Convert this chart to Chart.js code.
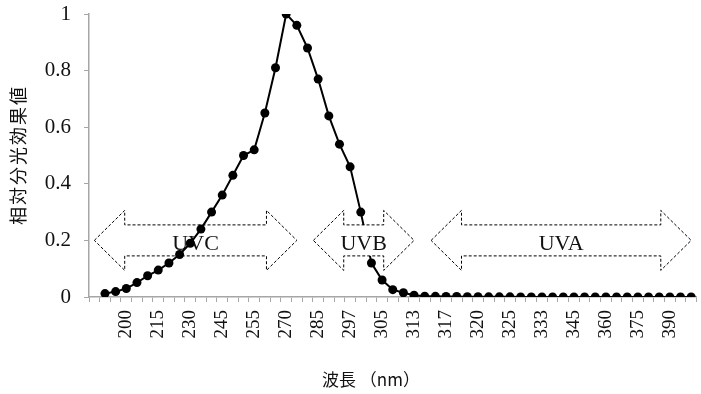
<!DOCTYPE html>
<html>
<head>
<meta charset="utf-8">
<script src="https://cdn.jsdelivr.net/npm/chart.js@4/dist/chart.umd.min.js"></script>
<style>
  body { margin: 0; background: #fff; }
  #wrap { width: 701px; height: 394px; }
</style>
</head>
<body>
<div id="wrap"><canvas id="uv-chart" width="701" height="394"></canvas></div>
<script>
// wavelength categories (first slot is empty, as in the original sheet)
var wavelengths = ['', '180', '190', '200', '205', '210', '215', '220', '225', '230', '235',
	'240', '245', '250', '254', '255', '260', '265', '270', '275', '280', '285', '290',
	'295', '297', '300', '303', '305', '308', '310', '313', '315', '316', '317', '318',
	'319', '320', '322', '323', '325', '328', '330', '333', '335', '340', '345', '350',
	'355', '360', '365', '370', '375', '380', '385', '390', '395', '400'];

// relative spectral effectiveness
var efficacy = [null, 0.012, 0.019, 0.030, 0.051, 0.075, 0.095, 0.120, 0.150, 0.190, 0.240,
	0.300, 0.360, 0.430, 0.500, 0.520, 0.650, 0.810, 1.000, 0.960, 0.880, 0.770, 0.640,
	0.540, 0.460, 0.300, 0.120, 0.060, 0.026, 0.015, 0.006, 0.003, 0.0024, 0.0020, 0.0016,
	0.0012, 0.0010, 0.00067, 0.00054, 0.00050, 0.00044, 0.00041, 0.00037, 0.00034, 0.00028,
	0.00024, 0.00020, 0.00016, 0.00013, 0.00011, 0.000093, 0.000077, 0.000064, 0.000053,
	0.000044, 0.000036, 0.000030];

var yTicks = [0, 0.2, 0.4, 0.6, 0.8, 1];
var yTickLabels = ['0', '0.2', '0.4', '0.6', '0.8', '1'];
var bandNames = ['UVC', 'UVB', 'UVA'];

var xTitle = '波長 （nm）';
var yTitle = '相対分光効果値';

var axisGray = '#a6a6a6';
var serif = '"Liberation Serif", "DejaVu Serif", serif';
var cjk = '"Noto Sans CJK JP", "Noto Sans", sans-serif';

// band arrows, spans given in category index units
var bandSpans = [
	{ from: 0, to: 19, front: false },
	{ from: 20.55, to: 30, front: true },
	{ from: 31.6, to: 56, front: false }
];

function drawArrows(chart, front) {
	var ctx = chart.ctx;
	var xs = chart.scales.x, ys = chart.scales.y;
	var w = xs.getPixelForValue(1) - xs.getPixelForValue(0);
	var yc = ys.getPixelForValue(0.2);
	var head = 2.85 * w, H = 30, b = 15.5;

	ctx.save();
	for (var i = 0; i < bandSpans.length; i++) {
		var s = bandSpans[i];
		if (s.front != front) continue;
		var x0 = xs.getPixelForValue(s.from), x1 = xs.getPixelForValue(s.to);
		ctx.beginPath();
		ctx.moveTo(x0, yc);
		ctx.lineTo(x0 + head, yc - H);
		ctx.lineTo(x0 + head, yc - b);
		ctx.lineTo(x1 - head, yc - b);
		ctx.lineTo(x1 - head, yc - H);
		ctx.lineTo(x1, yc);
		ctx.lineTo(x1 - head, yc + H);
		ctx.lineTo(x1 - head, yc + b);
		ctx.lineTo(x0 + head, yc + b);
		ctx.lineTo(x0 + head, yc + H);
		ctx.closePath();
		ctx.fillStyle = '#fff';
		ctx.fill();
		ctx.setLineDash([3, 2]);
		ctx.lineWidth = 1;
		ctx.strokeStyle = '#000';
		ctx.stroke();
		ctx.setLineDash([]);

		ctx.fillStyle = '#111';
		ctx.font = '22px ' + serif;
		ctx.textAlign = 'center';
		ctx.textBaseline = 'middle';
		ctx.fillText(bandNames[i], (x0 + x1) / 2, yc + 4);
	}
	ctx.restore();
}

var bandArrows = {
	id: 'bandArrows',
	beforeDatasetsDraw: function(chart) { drawArrows(chart, false); },
	afterDatasetsDraw: function(chart) { drawArrows(chart, true); }
};

var axisTitles = {
	id: 'axisTitles',
	afterDraw: function(chart) {
		var ctx = chart.ctx;
		ctx.save();
		ctx.fillStyle = '#111';
		ctx.textAlign = 'center';
		ctx.textBaseline = 'middle';
		ctx.font = '17px ' + cjk;
		ctx.fillText(xTitle, 371, 380);

		ctx.translate(18, 155);
		ctx.rotate(-Math.PI / 2);
		ctx.font = '18px ' + cjk;
		ctx.letterSpacing = '2px';
		ctx.fillText(yTitle, 0, 0);
		ctx.restore();
	}
};

var ctx = document.getElementById('uv-chart').getContext('2d');

var chart = new Chart(ctx, {
	type: 'line',
	data: {
		labels: wavelengths,
		datasets: [{
			label: yTitle,
			data: efficacy,
			borderColor: '#000',
			backgroundColor: '#000',
			borderWidth: 2,
			pointRadius: 4.5,
			pointHoverRadius: 4.5,
			pointBackgroundColor: '#000',
			pointBorderWidth: 0,
			tension: 0,
			spanGaps: false
		}]
	},
	options: {
		responsive: false,
		animation: false,
		layout: { padding: { top: 14, right: 3, left: 0, bottom: 0 } },
		plugins: {
			legend: { display: false },
			tooltip: { enabled: false }
		},
		scales: {
			x: {
				type: 'category',
				offset: true,
				afterFit: function(scale) {
					scale.height = 97;
					scale.paddingLeft = 0;
					scale.paddingRight = 0;
				},
				border: { color: axisGray, width: 1.5 },
				grid: { drawOnChartArea: false, color: axisGray, tickLength: 5, offset: true },
				ticks: {
					autoSkip: false,
					maxRotation: 90,
					minRotation: 90,
					padding: 8,
					color: '#111',
					font: { family: serif, size: 19 },
					callback: function(value, index) {
						return (index >= 3 && index % 3 == 0) ? wavelengths[index] : '';
					}
				}
			},
			y: {
				min: 0,
				max: 1,
				afterFit: function(scale) {
					scale.width = 89;
					scale.paddingTop = 0;
					scale.paddingBottom = 0;
				},
				afterBuildTicks: function(scale) {
					scale.ticks = yTicks.map(function(v) { return { value: v }; });
				},
				border: { color: axisGray, width: 1.5 },
				grid: { drawOnChartArea: false, color: axisGray, tickLength: 5 },
				ticks: {
					padding: 13,
					color: '#111',
					font: { family: serif, size: 21 },
					callback: function(value, index) { return yTickLabels[index]; }
				}
			}
		}
	},
	plugins: [bandArrows, axisTitles]
});
</script>
</body>
</html>
